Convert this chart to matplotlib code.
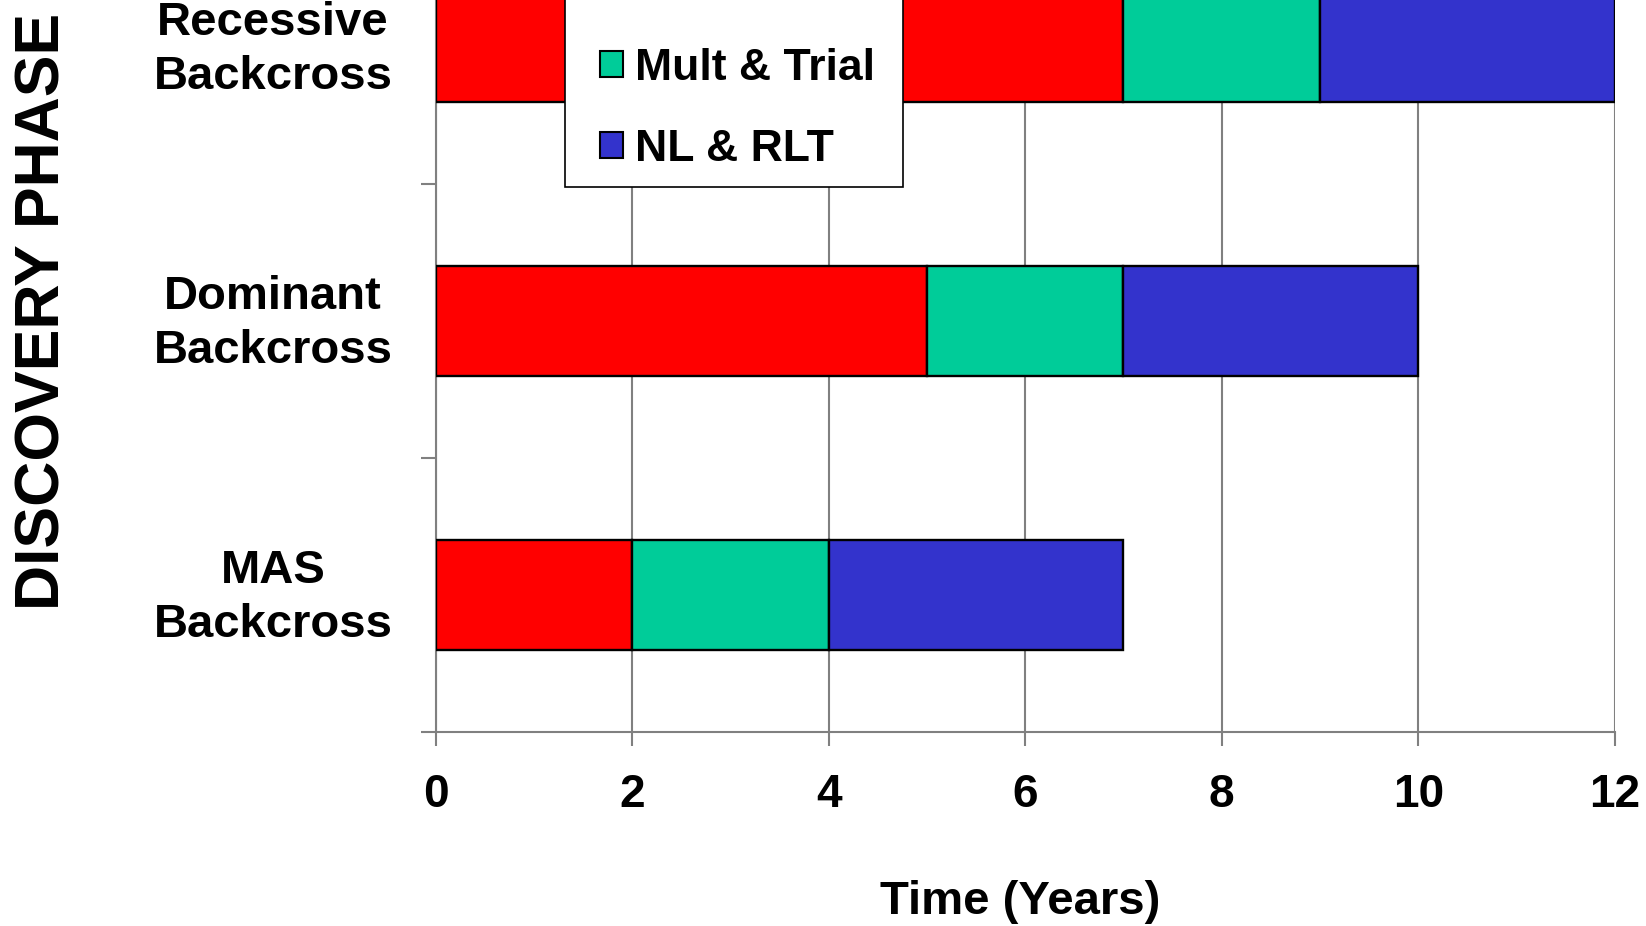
import matplotlib
matplotlib.use("Agg")
import matplotlib.pyplot as plt
from matplotlib.patches import Patch, Rectangle
from matplotlib.transforms import ScaledTranslation

categories = ["MAS\nBackcross", "Dominant\nBackcross", "Recessive\nBackcross"]
phases = ["Backcross", "Mult & Trial", "NL & RLT"]
backcross = [2, 5, 7]
mult_trial = [2, 2, 2]
nl_rlt = [3, 3, 3]
colors = ["#FF0000", "#00CC99", "#3333CC"]
xticks = [0, 2, 4, 6, 8, 10, 12]

plt.rcParams['font.family'] = ['Liberation Sans', 'DejaVu Sans']
plt.rcParams['font.weight'] = 'bold'

W, H = 1646, 926
fig = plt.figure(figsize=(W / 100, H / 100), dpi=100)
ax = fig.add_axes([0.2646, 0.2098, 0.7164, 0.8877])

ypos = list(range(len(categories)))
left = [0] * len(categories)
for vals, col, lab in zip([backcross, mult_trial, nl_rlt], colors, phases):
    ax.barh(ypos, vals, left=left, height=0.4, color=col, edgecolor='black',
            linewidth=1.7, label=lab, zorder=3)
    left = [l + v for l, v in zip(left, vals)]

ax.set_xlim(0, 12)
ax.set_ylim(-0.5, len(categories) - 0.5)
ax.set_xticks(xticks)
ax.set_xticklabels([str(t) for t in xticks], fontsize=33, fontweight='bold')
ax.tick_params(axis='x', length=10, width=1.5, color='#808080', pad=19.5)

ax.set_yticks([i - 0.5 for i in range(len(categories) + 1)])
ax.set_yticklabels([])
ax.tick_params(axis='y', which='major', length=10.5, width=1.5, color='#808080')
ax.set_yticks(ypos, minor=True)
ax.set_yticklabels(categories, minor=True, fontsize=34, fontweight='bold',
                   multialignment='center', linespacing=1.31)
ax.tick_params(axis='y', which='minor', length=0, pad=31)
shift = ScaledTranslation(0, 0.07, fig.dpi_scale_trans)
for lbl in ax.get_yticklabels(minor=True):
    lbl.set_transform(lbl.get_transform() + shift)

ax.grid(axis='x', color='#808080', linewidth=1.5)
ax.set_axisbelow(True)
for s in ['top', 'right']:
    ax.spines[s].set_visible(False)
for s in ['left', 'bottom']:
    ax.spines[s].set_color('#808080')
    ax.spines[s].set_linewidth(1.5)

# legend frame (extends above the figure like the reference)
frame = Rectangle((565 / W, 1 - 187 / H), 337.7 / W, 0.5, transform=fig.transFigure,
                  facecolor='white', edgecolor='black', linewidth=1.2, zorder=4)
fig.patches.append(frame)

handles = [Patch(facecolor=c, edgecolor='black', linewidth=1.5) for c in colors]
leg = fig.legend(handles, phases, loc='lower left',
                 bbox_to_anchor=(600 / W, 1 - 170 / H),
                 fontsize=32, frameon=False,
                 handlelength=0.52, handleheight=0.52, handletextpad=0.27,
                 labelspacing=0.91, borderpad=0, borderaxespad=0)
leg.set_zorder(5)
for t in leg.get_texts():
    t.set_fontweight('bold')

fig.text(1020 / W, 1 - 902.5 / H, "Time (Years)", fontsize=34,
         fontweight='bold', ha='center', va='center')
fig.text(43.5 / W, 1 - 311 / H, "DISCOVERY PHASE", fontsize=45, fontweight='bold',
         ha='center', va='center', rotation=90)

fig.savefig("out.png", dpi=100)
